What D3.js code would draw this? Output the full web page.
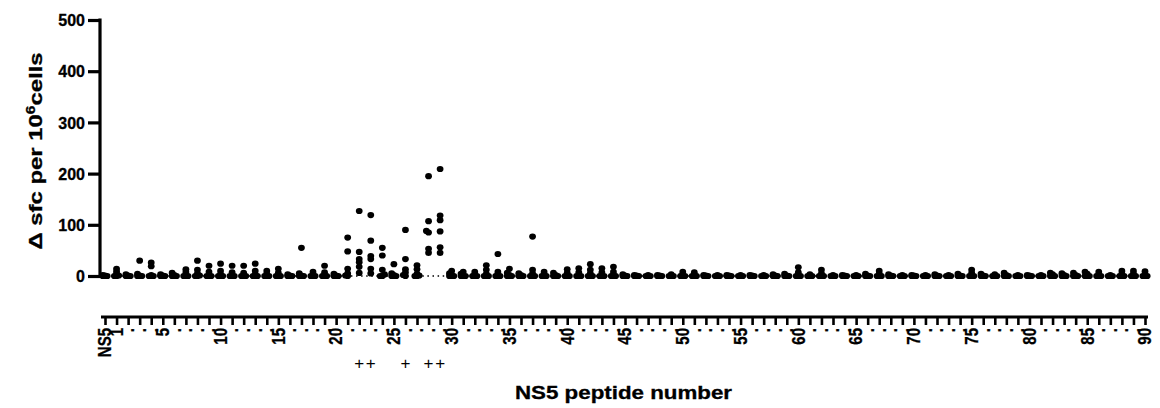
<!DOCTYPE html>
<html>
<head>
<meta charset="utf-8">
<title>NS5 peptide screen</title>
<style>
body { margin: 0; background: #fff; }
svg text { font-family: "Liberation Sans", Arial, sans-serif; fill: #000; }
</style>
</head>
<body>
<svg width="1160" height="408"></svg>
<script src="https://d3js.org/d3.v7.min.js"></script>
<script>
// categories: negative control then peptides 1..90
var peptides = ["NS5"].concat(d3.range(1, 91).map(String));
var labelledPeptides = ["NS5", "1", "5", "10", "15", "20", "25", "30", "35", "40", "45",
  "50", "55", "60", "65", "70", "75", "80", "85", "90"];
var yTicks = [0, 100, 200, 300, 400, 500];
var plusPeptides = ["22", "23", "26", "28", "29"];

// delta sfc per 10^6 cells, one value per donor
var sfcPerPeptide = [
  [2, 1, 0, 0, 0, 0],        // NS5
  [14, 9, 4, 1, 0, 0],       // 1
  [3, 1, 0, 0, 0, 0],        // 2
  [30, 4, 1, 0, 0, 0],       // 3
  [26, 19, 2, 0, 0, 0],      // 4
  [3, 1, 0, 0, 0, 0],        // 5
  [6, 2, 0, 0, 0, 0],        // 6
  [13, 8, 3, 0, 0, 0],       // 7
  [30, 12, 5, 1, 0, 0],      // 8
  [20, 8, 2, 0, 0, 0],       // 9
  [24, 10, 3, 0, 0, 0],      // 10
  [20, 7, 1, 0, 0, 0],       // 11
  [20, 6, 1, 0, 0, 0],       // 12
  [24, 10, 3, 0, 0, 0],      // 13
  [10, 4, 0, 0, 0, 0],       // 14
  [14, 6, 1, 0, 0, 0],       // 15
  [3, 1, 0, 0, 0, 0],        // 16
  [55, 5, 1, 0, 0, 0],       // 17
  [8, 3, 0, 0, 0, 0],        // 18
  [20, 7, 1, 0, 0, 0],       // 19
  [4, 1, 0, 0, 0, 0],        // 20
  [75, 48, 14, 5, 1, 0],     // 21
  [127, 47, 33, 27, 18, 6],  // 22
  [119, 69, 39, 33, 14, 5],  // 23
  [55, 40, 12, 3, 0, 0],     // 24
  [23, 5, 2, 0, 0, 0],       // 25
  [90, 33, 13, 7, 2, 0],     // 26
  [21, 13, 4, 1, 0, 0],      // 27
  [195, 107, 88, 85, 53, 45],// 28
  [209, 118, 109, 87, 56, 45],// 29
  [10, 5, 2, 0, 0, 0],       // 30
  [8, 4, 1, 0, 0, 0],        // 31
  [8, 3, 0, 0, 0, 0],        // 32
  [21, 12, 4, 0, 0, 0],      // 33
  [43, 8, 3, 0, 0, 0],       // 34
  [14, 6, 2, 0, 0, 0],       // 35
  [5, 2, 0, 0, 0, 0],        // 36
  [77, 12, 5, 0, 0, 0],      // 37
  [8, 3, 0, 0, 0, 0],        // 38
  [6, 2, 0, 0, 0, 0],        // 39
  [13, 6, 1, 0, 0, 0],       // 40
  [15, 7, 1, 0, 0, 0],       // 41
  [23, 12, 5, 0, 0, 0],      // 42
  [15, 7, 1, 0, 0, 0],       // 43
  [18, 8, 2, 0, 0, 0],       // 44
  [3, 1, 0, 0, 0, 0],        // 45
  [2, 1, 0, 0, 0, 0],        // 46
  [2, 0, 0, 0, 0, 0],        // 47
  [2, 1, 0, 0, 0, 0],        // 48
  [3, 0, 0, 0, 0, 0],        // 49
  [8, 3, 0, 0, 0, 0],        // 50
  [7, 2, 0, 0, 0, 0],        // 51
  [2, 1, 0, 0, 0, 0],        // 52
  [2, 0, 0, 0, 0, 0],        // 53
  [2, 1, 0, 0, 0, 0],        // 54
  [2, 0, 0, 0, 0, 0],        // 55
  [2, 1, 0, 0, 0, 0],        // 56
  [2, 0, 0, 0, 0, 0],        // 57
  [3, 1, 0, 0, 0, 0],        // 58
  [4, 1, 0, 0, 0, 0],        // 59
  [17, 7, 1, 0, 0, 0],       // 60
  [3, 0, 0, 0, 0, 0],        // 61
  [12, 5, 0, 0, 0, 0],       // 62
  [2, 0, 0, 0, 0, 0],        // 63
  [2, 1, 0, 0, 0, 0],        // 64
  [2, 0, 0, 0, 0, 0],        // 65
  [4, 1, 0, 0, 0, 0],        // 66
  [10, 4, 0, 0, 0, 0],       // 67
  [3, 1, 0, 0, 0, 0],        // 68
  [2, 0, 0, 0, 0, 0],        // 69
  [2, 1, 0, 0, 0, 0],        // 70
  [2, 0, 0, 0, 0, 0],        // 71
  [3, 1, 0, 0, 0, 0],        // 72
  [2, 0, 0, 0, 0, 0],        // 73
  [4, 1, 0, 0, 0, 0],        // 74
  [12, 6, 0, 0, 0, 0],       // 75
  [4, 1, 0, 0, 0, 0],        // 76
  [3, 0, 0, 0, 0, 0],        // 77
  [6, 2, 0, 0, 0, 0],        // 78
  [2, 0, 0, 0, 0, 0],        // 79
  [2, 1, 0, 0, 0, 0],        // 80
  [2, 0, 0, 0, 0, 0],        // 81
  [6, 3, 0, 0, 0, 0],        // 82
  [5, 2, 0, 0, 0, 0],        // 83
  [6, 2, 0, 0, 0, 0],        // 84
  [8, 4, 0, 0, 0, 0],        // 85
  [8, 3, 0, 0, 0, 0],        // 86
  [2, 0, 0, 0, 0, 0],        // 87
  [10, 4, 0, 0, 0, 0],       // 88
  [10, 4, 0, 0, 0, 0],       // 89
  [9, 3, 0, 0, 0, 0]         // 90
];

var svg = d3.select("svg");

var x = d3.scalePoint().domain(peptides).range([105, 1145]);
var y = d3.scaleLinear().domain([0, 500]).range([276, 20]);

var xAxisY = 317;

// zero reference line (dotted)
svg.append("line")
    .attr("x1", 101).attr("x2", 1148)
    .attr("y1", y(0)).attr("y2", y(0))
    .attr("stroke", "#000")
    .attr("stroke-width", 1.5)
    .attr("stroke-dasharray", "1.5 3.6");

// y axis
var yAxis = svg.append("g")
    .attr("transform", "translate(100,0)")
    .call(d3.axisLeft(y).tickValues(yTicks).tickSize(12).tickPadding(3).tickSizeOuter(0));
yAxis.select(".domain").remove();
yAxis.append("line")
    .attr("x1", 0).attr("x2", 0)
    .attr("y1", y(500) - 1.5).attr("y2", y(0) + 1.5)
    .attr("stroke", "#000").attr("stroke-width", 3.2);
yAxis.selectAll(".tick line").attr("stroke", "#000").attr("stroke-width", 3.2);
yAxis.selectAll(".tick text")
    .attr("font-size", 16)
    .attr("font-weight", "bold")
    .attr("stroke", "#000")
    .attr("stroke-width", 0.3)
    .attr("dy", "0.36em");

// x axis (offset below the plot)
var xAxis = svg.append("g")
    .attr("transform", "translate(0," + xAxisY + ")")
    .call(d3.axisBottom(x).tickSize(8).tickSizeOuter(0).tickFormat(""));
xAxis.select(".domain").remove();
xAxis.append("line")
    .attr("x1", 101).attr("x2", 1148)
    .attr("y1", 0).attr("y2", 0)
    .attr("stroke", "#000").attr("stroke-width", 3.2);
xAxis.selectAll(".tick line").attr("stroke", "#000").attr("stroke-width", 2.6);

// rotated tick labels, unlabelled peptides get a "."
svg.append("g").selectAll("text")
    .data(peptides)
    .enter().append("text")
    .attr("transform", function(d) {
      return "translate(" + x(d) + "," + (xAxisY + 11) + ") scale(1.18,1) rotate(-90)";
    })
    .attr("text-anchor", "end")
    .attr("dy", "0.36em")
    .attr("font-size", 15)
    .attr("font-weight", "bold")
    .attr("stroke", "#000")
    .attr("stroke-width", 0.25)
    .text(function(d) { return labelledPeptides.indexOf(d) >= 0 ? d : "."; });

// "+" marks under the positive peptides
svg.append("g").selectAll("text")
    .data(plusPeptides)
    .enter().append("text")
    .attr("x", function(d) { return x(d); })
    .attr("y", 369)
    .attr("text-anchor", "middle")
    .attr("font-size", 17)
    .text("+");

// column scatter: nearly identical values are nudged sideways
var offsets = [0, -2.2, 2.2];
function swarm(vals, cx) {
  var placed = [];
  vals.slice().sort(d3.ascending).forEach(function(v) {
    var cy = y(v), best = cx, bestD = -1;
    for (var k = 0; k < offsets.length; k++) {
      var px = cx + offsets[k];
      var dmin = d3.min(placed, function(p) { return Math.hypot(p.x - px, p.y - cy); });
      if (dmin === undefined || dmin >= 2.5) { best = px; break; }
      if (dmin > bestD) { bestD = dmin; best = px; }
    }
    placed.push({x: best, y: cy});
  });
  return placed;
}

var points = [];
peptides.forEach(function(p, i) {
  points = points.concat(swarm(sfcPerPeptide[i], x(p)));
});

svg.append("g").selectAll("ellipse")
    .data(points)
    .enter().append("ellipse")
    .attr("cx", function(d) { return d.x; })
    .attr("cy", function(d) { return d.y; })
    .attr("rx", 3.4)
    .attr("ry", 3.1)
    .attr("fill", "#000");

// axis titles
svg.append("text")
    .attr("x", 623.5)
    .attr("y", 399)
    .attr("text-anchor", "middle")
    .attr("font-size", 18)
    .attr("font-weight", "bold")
    .attr("stroke", "#000")
    .attr("stroke-width", 0.3)
    .attr("textLength", 217)
    .attr("lengthAdjust", "spacingAndGlyphs")
    .text("NS5 peptide number");

var yTitle = svg.append("text")
    .attr("transform", "translate(42,151) rotate(-90)")
    .attr("text-anchor", "middle")
    .attr("font-size", 18.5)
    .attr("font-weight", "bold")
    .attr("stroke", "#000")
    .attr("stroke-width", 0.3)
    .attr("textLength", 197)
    .attr("lengthAdjust", "spacingAndGlyphs");
yTitle.append("tspan").text("\u0394 sfc per 10");
yTitle.append("tspan").attr("font-size", 12).attr("dy", -7).text("6");
yTitle.append("tspan").attr("dy", 7).text("cells");
</script>
</body>
</html>
